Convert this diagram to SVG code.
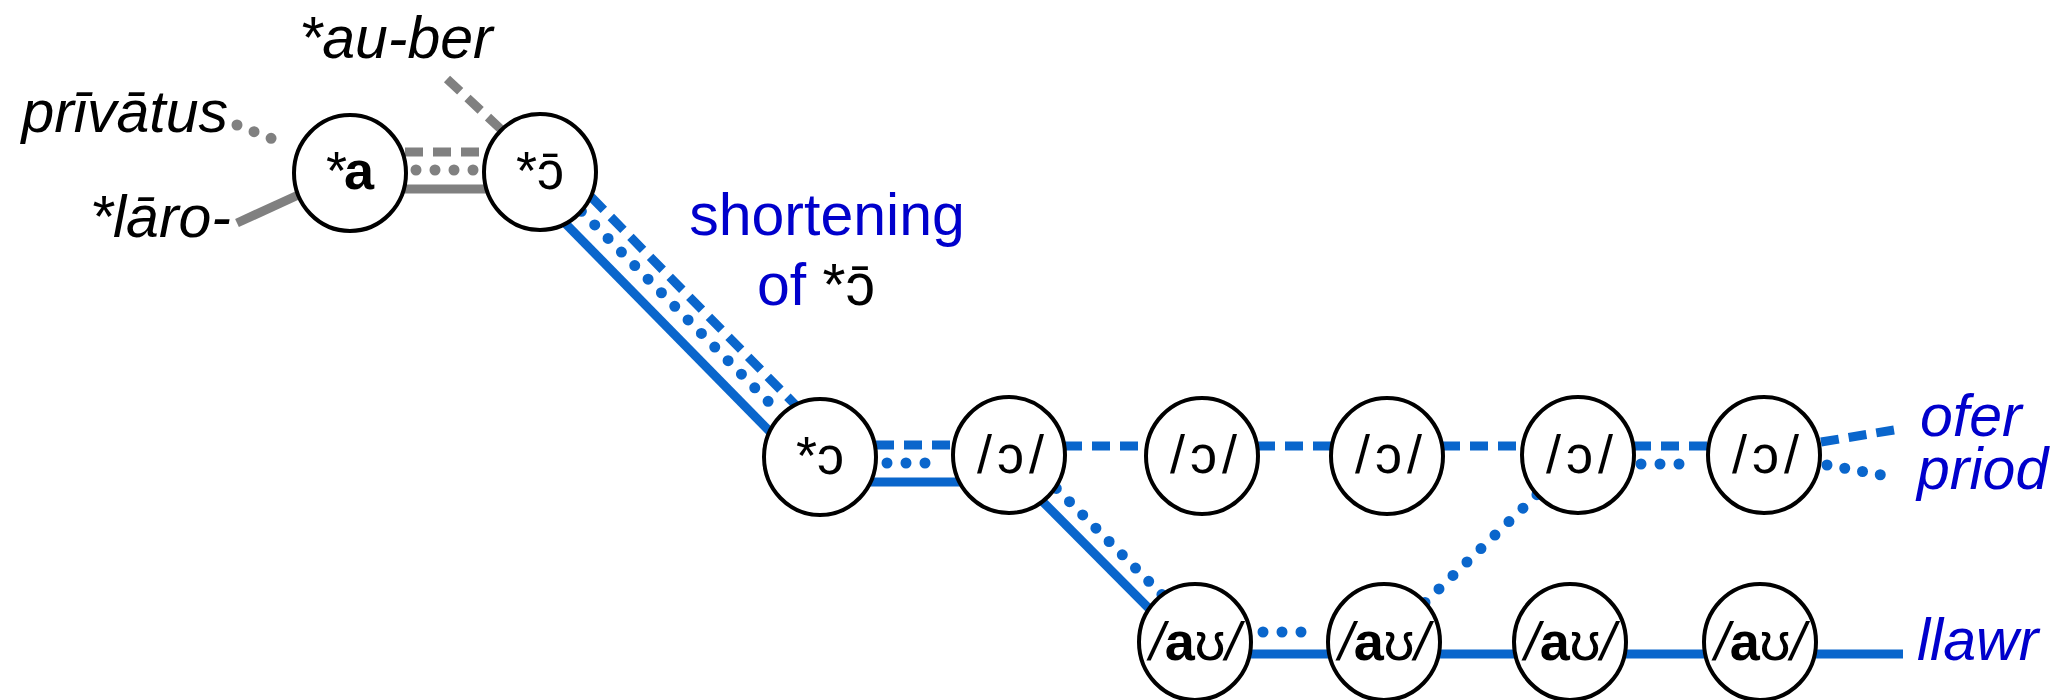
<svg xmlns="http://www.w3.org/2000/svg" width="2067" height="700" viewBox="0 0 2067 700">
<style>
.g{stroke:#808080;stroke-width:9;fill:none}
.b{stroke:#0a66cc;stroke-width:9;fill:none}
.dash{stroke-dasharray:18 10}
.dot{stroke-dasharray:0 19;stroke-linecap:round;stroke-width:11}
.node ellipse{fill:#fff;stroke:#000;stroke-width:4}
.nt{font-family:"Liberation Sans","DejaVu Sans",sans-serif;font-size:54px;fill:#000;text-anchor:middle}
.bo{font-weight:bold}
.it{font-style:italic}
.lab{font-family:"Liberation Sans","DejaVu Sans",sans-serif;font-size:59px}
.k{fill:#000}
.bl{fill:#0000cc}
</style>
<rect width="2067" height="700" fill="#fff"/>
<g id="connectors">
  <!-- grey -->
  <line class="g dot" x1="237" y1="125" x2="288" y2="145" style="stroke-dasharray:0 18.3"/>
  <line class="g dash" x1="447" y1="79" x2="505" y2="133"/>
  <line class="g" x1="237" y1="223" x2="320" y2="185"/>
  <line class="g dash" x1="405" y1="152" x2="488" y2="152"/>
  <line class="g dot" x1="416" y1="170" x2="474" y2="170"/>
  <line class="g" x1="350" y1="189" x2="540" y2="189"/>
  <!-- *ɔ̄ to *ɔ -->
  <line class="b" x1="527.2" y1="184.6" x2="807.2" y2="469.6"/>
  <line class="b dot" x1="581.4" y1="211.3" x2="781.4" y2="414.9" style="stroke-dasharray:0 19.03"/>
  <line class="b dash" x1="591.2" y1="197" x2="795.9" y2="405.4"/>
  <!-- *ɔ to /ɔ/1 -->
  <line class="b dash" x1="876" y1="445" x2="955" y2="445"/>
  <line class="b dot" x1="887" y1="463" x2="944" y2="463"/>
  <line class="b" x1="820" y1="482" x2="1009" y2="482"/>
  <!-- top row dashed -->
  <line class="b dash" x1="1064" y1="446" x2="1147" y2="446"/>
  <line class="b dash" x1="1257" y1="446" x2="1332" y2="446"/>
  <line class="b dash" x1="1442" y1="446" x2="1523" y2="446"/>
  <line class="b dash" x1="1633" y1="446" x2="1709" y2="446"/>
  <line class="b dot" x1="1641" y1="464" x2="1698" y2="464"/>
  <!-- to ofer / priod -->
  <line class="b dash" x1="1821" y1="442" x2="1900" y2="429"/>
  <line class="b dot" x1="1827" y1="465" x2="1898" y2="478" style="stroke-dasharray:0 18.05"/>
  <!-- /ɔ/1 to /aʊ/1 -->
  <line class="b" x1="1002.6" y1="461.3" x2="1188.6" y2="648.3"/>
  <line class="b dot" x1="1056.3" y1="488.4" x2="1161.9" y2="594.6" style="stroke-dasharray:0 18.72"/>
  <!-- /aʊ/2 to /ɔ/4 -->
  <line class="b dot" x1="1425" y1="602.4" x2="1537" y2="494.6" style="stroke-dasharray:0 19.42"/>
  <!-- bottom row -->
  <line class="b dot" x1="1263" y1="632" x2="1320" y2="632"/>
  <line class="b" x1="1195" y1="654" x2="1903" y2="654"/>
</g>
<g id="n-a" class="node"><ellipse cx="350" cy="173" rx="56" ry="58"/><text class="nt" x="350" y="189">*<tspan class="bo" dx="-3">a</tspan></text></g>
<g id="n-oo" class="node"><ellipse cx="540" cy="172" rx="56" ry="58"/><text class="nt" x="540" y="189">*ɔ̄</text></g>
<g id="n-o" class="node"><ellipse cx="820" cy="457" rx="56" ry="58"/><text class="nt" x="820" y="474">*ɔ</text></g>
<g id="n-o1" class="node"><ellipse cx="1009" cy="455" rx="56" ry="58"/><text class="nt" x="1013" y="473" letter-spacing="5">/ɔ/</text></g>
<g id="n-o2" class="node"><ellipse cx="1202" cy="456" rx="56" ry="58"/><text class="nt" x="1206" y="473" letter-spacing="5">/ɔ/</text></g>
<g id="n-o3" class="node"><ellipse cx="1387" cy="456" rx="56" ry="58"/><text class="nt" x="1391" y="473" letter-spacing="5">/ɔ/</text></g>
<g id="n-o4" class="node"><ellipse cx="1578" cy="455" rx="56" ry="58"/><text class="nt" x="1582" y="473" letter-spacing="5">/ɔ/</text></g>
<g id="n-o5" class="node"><ellipse cx="1764" cy="455" rx="56" ry="58"/><text class="nt" x="1768" y="473" letter-spacing="5">/ɔ/</text></g>
<g id="n-au1" class="node"><ellipse cx="1195" cy="642" rx="56" ry="58"/><text class="nt" x="1195" y="660"><tspan class="it">/</tspan><tspan class="bo">a</tspan>ʊ<tspan class="it">/</tspan></text></g>
<g id="n-au2" class="node"><ellipse cx="1384" cy="642" rx="56" ry="58"/><text class="nt" x="1384" y="660"><tspan class="it">/</tspan><tspan class="bo">a</tspan>ʊ<tspan class="it">/</tspan></text></g>
<g id="n-au3" class="node"><ellipse cx="1570" cy="642" rx="56" ry="58"/><text class="nt" x="1570" y="660"><tspan class="it">/</tspan><tspan class="bo">a</tspan>ʊ<tspan class="it">/</tspan></text></g>
<g id="n-au4" class="node"><ellipse cx="1760" cy="642" rx="56" ry="58"/><text class="nt" x="1760" y="660"><tspan class="it">/</tspan><tspan class="bo">a</tspan>ʊ<tspan class="it">/</tspan></text></g>
<g id="labels">
  <text class="lab it k" x="228" y="132" text-anchor="end">prīvātus</text>
  <text class="lab it k" x="231" y="237" text-anchor="end">*lāro-</text>
  <text class="lab it k" x="396" y="58" text-anchor="middle">*au-ber</text>
  <text class="lab bl" x="827" y="235" text-anchor="middle">shortening</text>
  <text class="lab" x="757" y="305"><tspan class="bl">of </tspan><tspan class="k">*ɔ̄</tspan></text>
  <text class="lab it bl" x="1920" y="436">ofer</text>
  <text class="lab it bl" x="1917" y="489">priod</text>
  <text class="lab it bl" x="1917" y="660">llawr</text>
</g>
</svg>
